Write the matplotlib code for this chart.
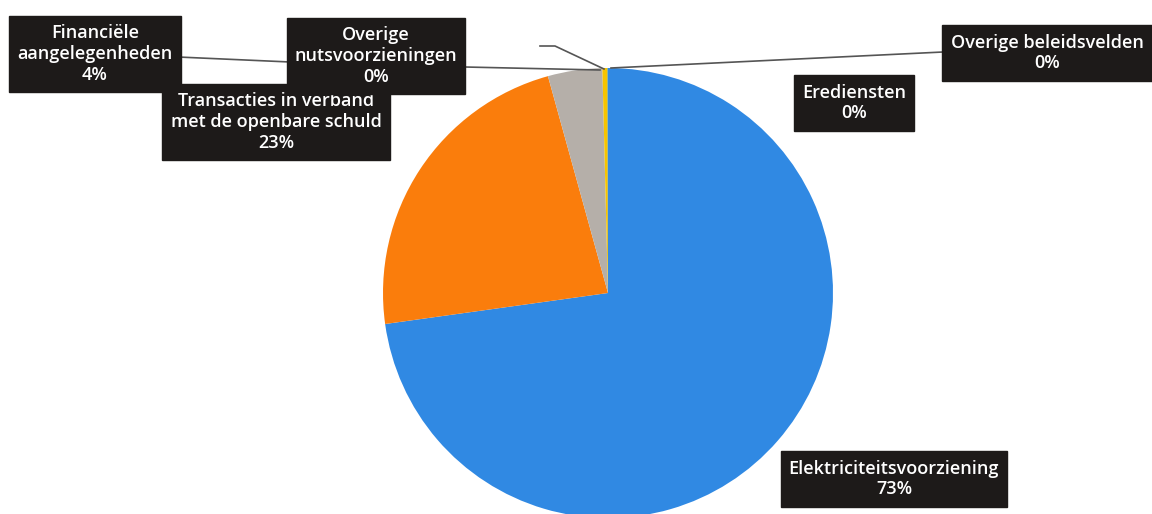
import matplotlib.pyplot as plt

categories = ['Elektriciteitsvoorziening', 'Transacties in verband\nmet de openbare schuld',
              'Financiële\naangelegenheden', 'Overige\nnutsvoorzieningen',
              'Erediensten', 'Overige beleidsvelden']
values = [72.8, 22.9, 3.9, 0.35, 0.02, 0.03]
colors = ['#3089E3', '#FA7D0C', '#B5AFA9', '#F7C400', '#2A5FB0', '#6AA84F']

W, H = 1152, 514

fig = plt.figure(figsize=(W / 100, H / 100), dpi=100)
ax = fig.add_axes([0, 0, 1, 1])

# pie (pixel coords, y measured from bottom)
cx, cy, r = 608, H - 293, 225
ax.pie(values, colors=colors, startangle=90, counterclock=False,
       center=(cx, cy), radius=r, frame=True,
       wedgeprops=dict(linewidth=0))
ax.set_xlim(0, W)
ax.set_ylim(0, H)
ax.set_aspect('equal')
ax.axis('off')

# leader lines (from picture, y from top)
leaders = [
    [(178, 57), (290, 62)],
    [(465, 67), (600, 70)],
    [(540, 46), (555, 46), (604, 69)],
    [(611, 68), (943, 52)],
]
for pts in leaders:
    xs = [p[0] for p in pts]
    ys = [H - p[1] for p in pts]
    ax.plot(xs, ys, color='#555555', lw=1.2, zorder=3)

# label positions (text centres, y from top) in the order of categories
label_pos = [(894, 479), (276, 122), (95, 54), (376, 56), (854, 103), (1047, 53)]
draw_order = [0, 2, 1, 3, 4, 5]

for z, i in enumerate(draw_order):
    pct = f'{round(values[i]):.0f}%'
    x, y = label_pos[i]
    ax.text(x, H - y, f'{categories[i]}\n{pct}', ha='center', va='center',
            color='white', fontsize=13, family='Open Sans', weight='semibold',
            linespacing=1.2, zorder=5 + z,
            bbox=dict(boxstyle='square,pad=0.45', fc='#1D1A19', ec='#1D1A19'))

fig.savefig('out.png', dpi=100)
